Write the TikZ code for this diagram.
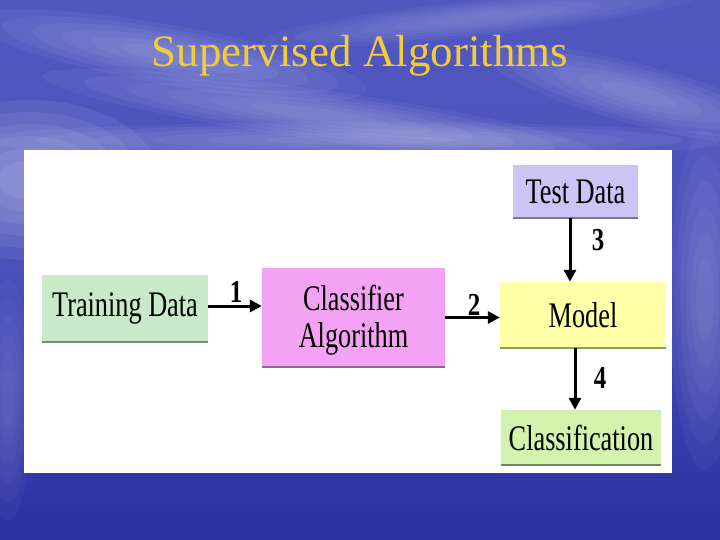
\documentclass[tikz,border=0pt]{standalone}
\usepackage{fontspec}
\setmainfont{Liberation Serif}
\newfontfamily\boxfont[FakeStretch=0.73]{Liberation Serif}
\newfontfamily\numfont[FakeStretch=0.78]{Liberation Serif}
\usetikzlibrary{arrows.meta}
\definecolor{bgtop}{HTML}{5058C0}
\definecolor{bgbot}{HTML}{2A30A0}
\definecolor{titlecol}{HTML}{F4CC3A}
\definecolor{trainfill}{HTML}{C8EAC8}
\definecolor{clffill}{HTML}{F4A2F4}
\definecolor{modelfill}{HTML}{FFFFA8}
\definecolor{testfill}{HTML}{CCC4F4}
\definecolor{clsfill}{HTML}{D2F2AE}
\tikzset{
  box/.style={minimum width=#1, inner sep=0pt, font=\boxfont\fontsize{36}{38}\selectfont, align=center, text=black},
  flow/.style={line width=3pt, -{Triangle[length=12pt,width=12pt]}},
  num/.style={font=\numfont\bfseries\fontsize{32}{34}\selectfont, text=black, inner sep=0pt}
}
\newcommand\softcloud[6]{% x y a b angle opacity
  \foreach \k in {1.0,0.85,0.7,0.55,0.4,0.25}{
    \fill[white, opacity=#6, rotate around={#5:(#1,#2)}] (#1,#2) ellipse ({#3*\k} and {#4*\k});
  }}
\begin{document}
\begin{tikzpicture}[x=1pt,y=-1pt]
\useasboundingbox (0,0) rectangle (720,540);
% background
\shade[top color=bgtop, bottom color=bgbot, middle color=bgtop!80!bgbot] (0,0) rectangle (720,540);
\softcloud{30}{180}{130}{80}{0}{0.07}
\softcloud{170}{55}{200}{30}{-10}{0.05}
\softcloud{320}{115}{280}{25}{-8}{0.05}
\softcloud{640}{95}{160}{30}{-15}{0.05}
\softcloud{480}{18}{220}{18}{6}{0.04}
\softcloud{360}{140}{380}{18}{0}{0.05}
\softcloud{705}{300}{35}{170}{0}{0.04}
\softcloud{8}{400}{25}{120}{0}{0.03}
% title
\node[font=\fontsize{45}{48}\selectfont, text=titlecol] (title) at (360,56) {Supervised Algorithms};
% panel
\fill[white] (24,150) rectangle (672,473);
% boxes
\node[box=166pt, minimum height=67pt, fill=trainfill] (train) at (125,308.5) {Training Data};
\node[box=183pt, minimum height=99pt, fill=clffill] (clf) at (353.5,317.5) {};
\node[box=183pt] (clftext) at (353.5,320) {Classifier\\[-1pt]Algorithm};
\node[box=166pt, minimum height=66pt, fill=modelfill] (model) at (583,315) {Model};
\node[box=125pt, minimum height=53pt, fill=testfill] (test) at (575.5,191.5) {Test Data};
\node[box=160pt, minimum height=55pt, fill=clsfill] (cls) at (581,437.5) {Classification};
% bottom shading edges
\draw[line width=1.5pt, trainfill!60!black] (train.south west) -- (train.south east);
\draw[line width=1.5pt, clffill!60!black] (clf.south west) -- (clf.south east);
\draw[line width=1.5pt, modelfill!60!black] (model.south west) -- (model.south east);
\draw[line width=1.5pt, testfill!60!black] (test.south west) -- (test.south east);
\draw[line width=2pt, clsfill!55!black] (cls.south west) -- (cls.south east);
% connectors
\draw[flow] ([yshift=2.5pt]train.east) -- ([yshift=2.5pt]train.east -| clf.west);
\draw[flow] (clf.east) -- (clf.east -| model.west);
\draw[flow] ([xshift=-5.5pt]test.south) -- ([xshift=-5.5pt]test.south |- model.north);
\draw[flow] ([xshift=-8pt]model.south) -- ([xshift=-8pt]model.south |- cls.north);
% labels
\node[num] (n1) at (236,292) {1};
\node[num] (n2) at (474,305) {2};
\node[num] (n3) at (598,240) {3};
\node[num] (n4) at (600,378) {4};
\end{tikzpicture}
\end{document}
